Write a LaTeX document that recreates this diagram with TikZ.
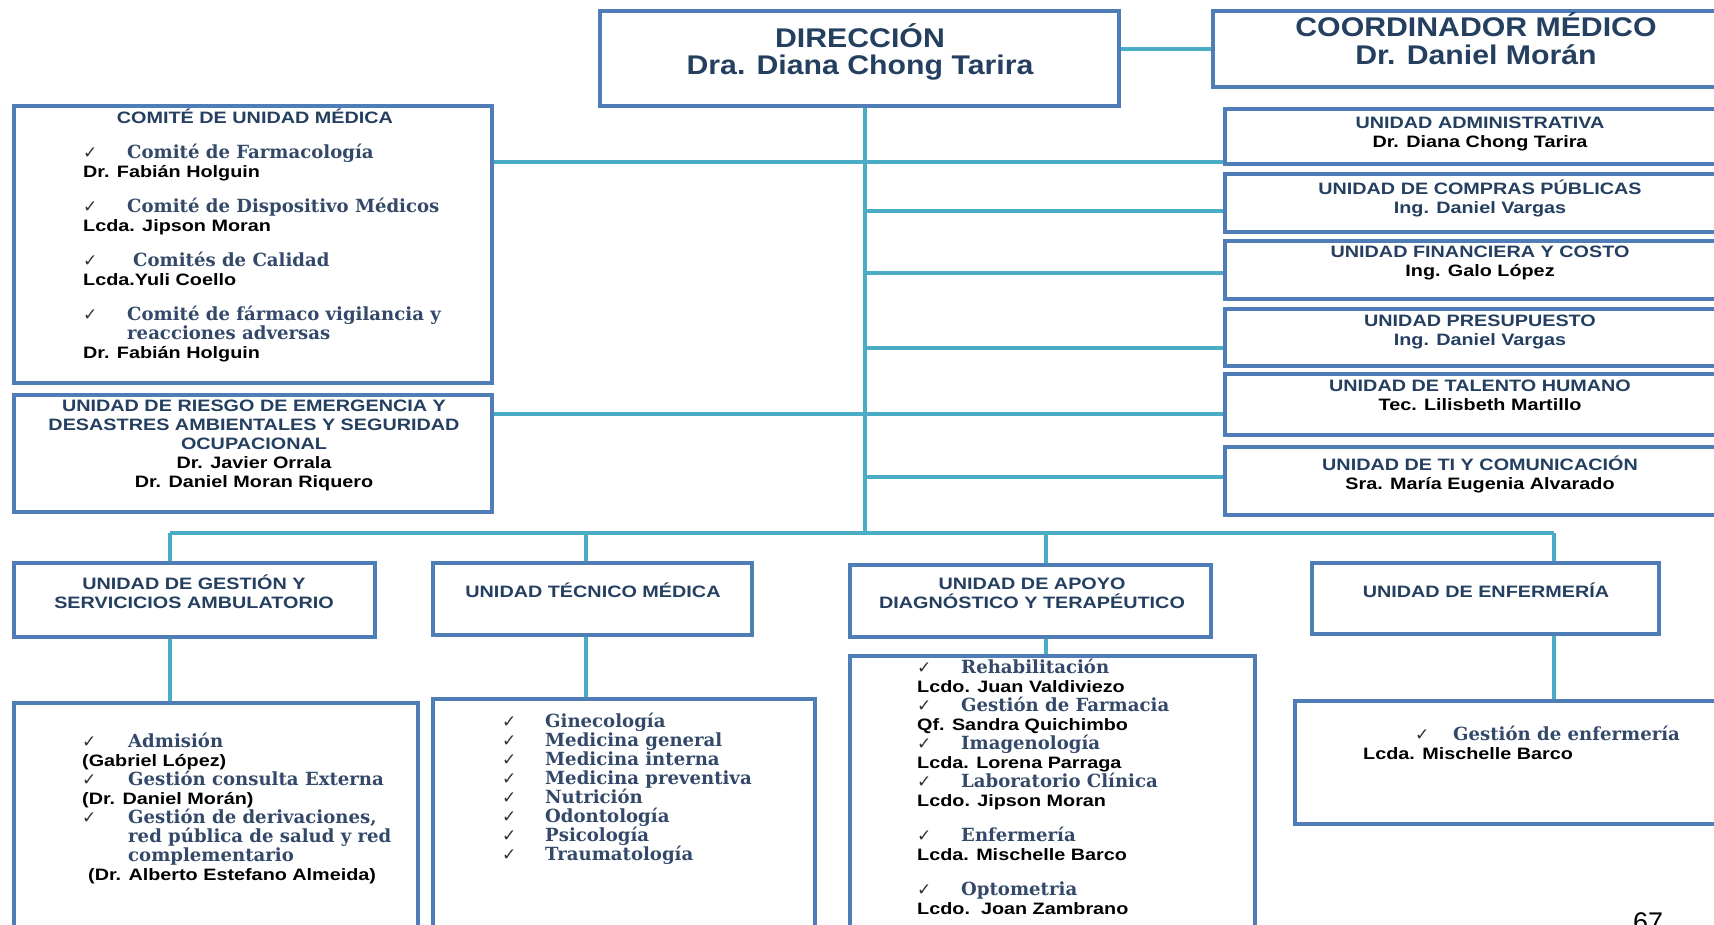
\documentclass[tikz,border=0pt]{standalone}
\usepackage{fontspec}
\setmainfont{Liberation Sans}
\newfontfamily\sanso[FakeStretch=1.2]{Liberation Sans}
\newfontfamily\grande[FakeStretch=1.12]{Liberation Sans}
\newfontfamily\serifo{DejaVu Serif}
\newfontfamily\simbolo{DejaVu Sans}
\usetikzlibrary{positioning}
\lineskiplimit=-20pt

\definecolor{cajaazul}{HTML}{4F7DB8}
\definecolor{lineaturq}{HTML}{4BACC6}
\definecolor{tituloazul}{HTML}{243F60}
\definecolor{listaazul}{HTML}{34496A}

\newcommand{\chk}[2][44pt]{\makebox[#1][l]{\simbolo\mdseries\fontsize{17}{17}\selectfont\color{black!80}✓}{\serifo\bfseries\fontsize{18.1}{19}\selectfont\color{listaazul}#2}}
\newcommand{\sangria}[2][44pt]{\hspace*{#1}{\serifo\bfseries\fontsize{18.1}{19}\selectfont\color{listaazul}#2}}
\newcommand{\nom}[1]{{\color{black}#1}}

\tikzset{
  caja/.style={draw=cajaazul, line width=4pt, fill=white, inner sep=0pt},
  linea/.style={draw=lineaturq, line width=4.5pt},
  cabeza/.style={font=\grande\bfseries\fontsize{27}{27.5}\selectfont, text=tituloazul,
    align=center, inner sep=0pt, anchor=north, execute at begin node={\rule{0pt}{25.5pt}}},
  titulo/.style={font=\sanso\bfseries\fontsize{16.5}{19}\selectfont, text=tituloazul,
    align=center, inner sep=0pt, anchor=north, execute at begin node={\rule{0pt}{15.5pt}}},
  lista/.style={font=\sanso\bfseries\fontsize{16.5}{19}\selectfont, text=black,
    align=left, inner sep=0pt, anchor=north west, execute at begin node={\rule{0pt}{15pt}}},
}

\begin{document}
\begin{tikzpicture}[x=1pt,y=-1pt]
  \useasboundingbox (0,0) rectangle (1714,925);

  % Cajas de la cabecera
  \node[caja, minimum width=519pt, minimum height=95pt] (dir) at (859.5,58.5) {};
  \node[caja, minimum width=526pt, minimum height=76pt] (coord) at (1476,49) {};
  \node[cabeza] (dirtxt) at (860,23) {DIRECCIÓN\\Dra. Diana Chong Tarira};
  \node[cabeza] (coordtxt) at (1476,12.5) {COORDINADOR MÉDICO\\Dr. Daniel Morán};

  % Lado izquierdo
  \node[caja, minimum width=478pt, minimum height=277pt] (comite) at (253,244.5) {};
  \node[caja, minimum width=478pt, minimum height=117pt] (riesgo) at (253,453.5) {};
  \node[titulo] (comitetxt) at (255,107.5) {COMITÉ DE UNIDAD MÉDICA};
  \node[lista] (comitelista) at (83,144) {\chk{Comité de Farmacología}\\ Dr. Fabián Holguin\\[16pt]
    \chk{Comité de Dispositivo Médicos}\\ Lcda. Jipson Moran\\[16pt]
    \chk[50pt]{Comités de Calidad}\\ Lcda.Yuli Coello\\[16pt]
    \chk{Comité de fármaco vigilancia y}\\ \sangria{reacciones adversas}\\ Dr. Fabián Holguin};
  \node[titulo] (riesgotxt) at (254,399.5) {UNIDAD DE RIESGO DE EMERGENCIA Y\\
    DESASTRES AMBIENTALES Y SEGURIDAD\\ OCUPACIONAL\\ \nom{Dr. Javier Orrala}\\ \nom{Dr. Daniel Moran Riquero}};

  % Lado derecho
  \node[caja, minimum width=515pt, minimum height=55pt] (admin) at (1482.5,136.5) {};
  \node[caja, minimum width=515pt, minimum height=58pt] (compras) at (1482.5,203) {};
  \node[caja, minimum width=515pt, minimum height=58pt] (finan) at (1482.5,270) {};
  \node[caja, minimum width=515pt, minimum height=57pt] (presup) at (1482.5,337.5) {};
  \node[caja, minimum width=515pt, minimum height=61pt] (talento) at (1482.5,404.5) {};
  \node[caja, minimum width=515pt, minimum height=68pt] (ti) at (1482.5,481) {};
  \node[titulo] (admintxt) at (1480,116.5) {UNIDAD ADMINISTRATIVA\\ \nom{Dr. Diana Chong Tarira}};
  \node[titulo] (comprastxt) at (1480,179.5) {UNIDAD DE COMPRAS PÚBLICAS\\ Ing. Daniel Vargas};
  \node[titulo] (finantxt) at (1480,245.5) {UNIDAD FINANCIERA Y COSTO\\ \nom{Ing. Galo López}};
  \node[titulo] (presuptxt) at (1480,314.5) {UNIDAD PRESUPUESTO\\ Ing. Daniel Vargas};
  \node[titulo] (talentotxt) at (1480,379.5) {UNIDAD DE TALENTO HUMANO\\ \nom{Tec. Lilisbeth Martillo}};
  \node[titulo] (titxt) at (1480,455.5) {UNIDAD DE TI Y COMUNICACIÓN\\ \nom{Sra. María Eugenia Alvarado}};

  % Fila inferior
  \node[caja, minimum width=361pt, minimum height=74pt] (gestion) at (194.5,600) {};
  \node[caja, minimum width=319pt, minimum height=72pt] (tecnico) at (592.5,599) {};
  \node[caja, minimum width=361pt, minimum height=72pt] (apoyo) at (1030.5,601) {};
  \node[caja, minimum width=347pt, minimum height=71pt] (enferm) at (1485.5,598.5) {};
  \node[titulo] (gestiontxt) at (194,574.5) {UNIDAD DE GESTIÓN Y\\ SERVICICIOS AMBULATORIO};
  \node[titulo] (tecnicotxt) at (593,581.5) {UNIDAD TÉCNICO MÉDICA};
  \node[titulo] (apoyotxt) at (1032,577.5) {UNIDAD DE APOYO\\ DIAGNÓSTICO Y TERAPÉUTICO};
  \node[titulo] (enfermtxt) at (1486,581.5) {UNIDAD DE ENFERMERÍA};

  \node[caja, minimum width=404pt, minimum height=242pt] (gestlista) at (216,824) {};
  \node[caja, minimum width=382pt, minimum height=246pt] (teclista) at (624,822) {};
  \node[caja, minimum width=405pt, minimum height=289pt] (apolista) at (1052.5,800.5) {};
  \node[caja, minimum width=445pt, minimum height=123pt] (enflista) at (1517.5,762.5) {};
  \node[lista] (gesttxt) at (82,733) {\chk[46pt]{Admisión}\\ (Gabriel López)\\
    \chk[46pt]{Gestión consulta Externa}\\ (Dr. Daniel Morán)\\
    \chk[46pt]{Gestión de derivaciones,}\\ \sangria[46pt]{red pública de salud y red}\\
    \sangria[46pt]{complementario}\\ \hspace*{6pt}(Dr. Alberto Estefano Almeida)};
  \node[lista] (tectxt) at (502,713) {\chk[43pt]{Ginecología}\\ \chk[43pt]{Medicina general}\\
    \chk[43pt]{Medicina interna}\\ \chk[43pt]{Medicina preventiva}\\ \chk[43pt]{Nutrición}\\
    \chk[43pt]{Odontología}\\ \chk[43pt]{Psicología}\\ \chk[43pt]{Traumatología}};
  \node[lista] (apotxt) at (917,659) {\chk{Rehabilitación}\\ Lcdo. Juan Valdiviezo\\
    \chk{Gestión de Farmacia}\\ Qf. Sandra Quichimbo\\ \chk{Imagenología}\\ Lcda. Lorena Parraga\\
    \chk{Laboratorio Clínica}\\ Lcdo. Jipson Moran\\[16pt] \chk{Enfermería}\\ Lcda. Mischelle Barco\\[16pt]
    \chk{Optometria}\\ Lcdo.\ \ Joan Zambrano};
  \node[lista] (enftxt) at (1363,726) {\hspace*{52pt}\chk[38pt]{Gestión de enfermería}\\ Lcda. Mischelle Barco};

  \node[font=\fontsize{27}{27}\selectfont, anchor=north west, inner sep=0pt] (pagina) at (1633,912) {67};

  % Conectores
  \coordinate (tr) at (865,533);
  \coordinate (t1) at (865,162);
  \coordinate (t2) at (865,211);
  \coordinate (t3) at (865,273);
  \coordinate (t4) at (865,348);
  \coordinate (t5) at (865,414);
  \coordinate (t6) at (865,477);
  \coordinate (b1) at (170,533);
  \coordinate (b2) at (586,533);
  \coordinate (b3) at (1046,533);
  \coordinate (b4) at (1554,533);

  \draw[linea] (dir.east |- coord.west) -- (coord.west);
  \draw[linea] (dir.south -| tr) -- (tr);
  \draw[linea] (comite.east |- t1) -- (admin.west |- t1);
  \draw[linea] (riesgo.east |- t5) -- (talento.west |- t5);
  \foreach \t/\u in {t2/compras, t3/finan, t4/presup, t6/ti}
    \draw[linea] (\t) -- (\u.west |- \t);
  \draw[linea] (b1) -- (b4);
  \foreach \b/\u/\l in {b1/gestion/gestlista, b2/tecnico/teclista, b3/apoyo/apolista, b4/enferm/enflista}{
    \draw[linea] (\b) -- (\b |- \u.north);
    \draw[linea] (\b |- \u.south) -- (\b |- \l.north);
  }
\end{tikzpicture}
\end{document}
